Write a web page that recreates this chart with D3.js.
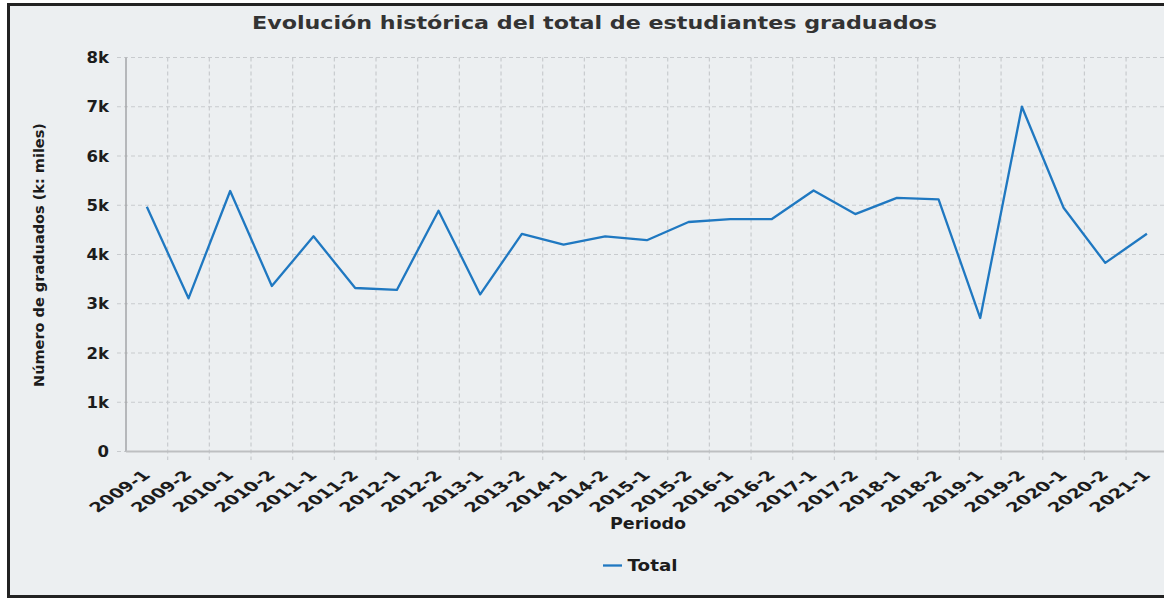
<!DOCTYPE html>
<html lang="es">
<head>
    <meta charset="UTF-8">
    <title>Evolución histórica del total de estudiantes graduados</title>
    <style>
        body { margin: 0; background: #ffffff; }
        text { font-family: "DejaVu Sans", sans-serif; font-weight: bold; }
    </style>
</head>
<script src="https://d3js.org/d3.v7.min.js"></script>
<body>
<svg width="1164" height="598" class="graduados"></svg>

<script>
    // datos
    var periodos = ["2009-1", "2009-2", "2010-1", "2010-2", "2011-1", "2011-2", "2012-1", "2012-2",
        "2013-1", "2013-2", "2014-1", "2014-2", "2015-1", "2015-2", "2016-1", "2016-2",
        "2017-1", "2017-2", "2018-1", "2018-2", "2019-1", "2019-2", "2020-1", "2020-2", "2021-1"];
    var total = [4970, 3110, 5290, 3360, 4370, 3320, 3280, 4890,
        3190, 4420, 4200, 4370, 4290, 4660, 4720, 4720,
        5300, 4820, 5150, 5120, 2710, 7000, 4950, 3830, 4420];
    var yTicks = [0, 1000, 2000, 3000, 4000, 5000, 6000, 7000, 8000];
    var yTickLabels = ["0", "1k", "2k", "3k", "4k", "5k", "6k", "7k", "8k"];

    var svg = d3.select("svg.graduados"),
        W = +svg.attr("width"),
        H = +svg.attr("height");

    var plotLeft = 126, plotTop = 57.5, plotBottom = 451.5, step = 41.67;

    // fondo con marco
    svg.append("rect")
        .attr("x", 8.5).attr("y", 4.5)
        .attr("width", W + 10).attr("height", H - 6)
        .attr("fill", "#eceff1")
        .attr("stroke", "#222")
        .attr("stroke-width", 3);

    var xScale = d3.scaleBand().domain(periodos).range([plotLeft, plotLeft + step * periodos.length]).padding(0),
        yScale = d3.scaleLinear().domain([0, 8000]).range([plotBottom, plotTop]);

    // grid horizontal
    svg.append("g")
        .selectAll("line")
        .data(yTicks)
        .enter().append("line")
        .attr("x1", 117)
        .attr("x2", W)
        .attr("y1", function (d) { return yScale(d); })
        .attr("y2", function (d) { return yScale(d); })
        .attr("stroke", "#c8cbce")
        .attr("stroke-width", 1.2)
        .attr("stroke-dasharray", "4,3");

    // grid vertical
    svg.append("g")
        .selectAll("line")
        .data(periodos.slice(1))
        .enter().append("line")
        .attr("x1", function (d) { return xScale(d); })
        .attr("x2", function (d) { return xScale(d); })
        .attr("y1", plotTop)
        .attr("y2", 460)
        .attr("stroke", "#c8cbce")
        .attr("stroke-width", 1.2)
        .attr("stroke-dasharray", "4,3");

    // ejes
    svg.append("line")
        .attr("x1", plotLeft).attr("x2", plotLeft)
        .attr("y1", plotTop).attr("y2", plotBottom)
        .attr("stroke", "#a3a5a7").attr("stroke-width", 1.5);
    svg.append("line")
        .attr("x1", plotLeft).attr("x2", W)
        .attr("y1", plotBottom).attr("y2", plotBottom)
        .attr("stroke", "#bdbfc1").attr("stroke-width", 2);

    // etiquetas eje y
    svg.append("g")
        .selectAll("text")
        .data(yTicks)
        .enter().append("text")
        .attr("transform", function (d) {
            return "translate(109," + (yScale(d) + 5.5) + ") scale(1.1,1)";
        })
        .attr("text-anchor", "end")
        .attr("font-size", "15px")
        .attr("fill", "#1c1c1c")
        .text(function (d, i) { return yTickLabels[i]; });

    // etiquetas eje x (giradas y estiradas como en la captura)
    svg.append("g")
        .selectAll("text")
        .data(periodos)
        .enter().append("text")
        .attr("transform", function (d) {
            return "translate(" + (xScale(d) + xScale.bandwidth() / 2 + 4.5) + ",476) scale(1.45,1) rotate(-45)";
        })
        .attr("text-anchor", "end")
        .attr("font-size", "13.5px")
        .attr("fill", "#1c1c1c")
        .text(function (d) { return d; });

    // titulo
    svg.append("text")
        .attr("x", 594.5)
        .attr("y", 29)
        .attr("text-anchor", "middle")
        .attr("font-size", "18.5px")
        .attr("fill", "#333")
        .attr("textLength", 685)
        .attr("lengthAdjust", "spacingAndGlyphs")
        .text("Evolución histórica del total de estudiantes graduados");

    svg.append("text")
        .attr("transform", "translate(44,255) rotate(-90)")
        .attr("text-anchor", "middle")
        .attr("font-size", "14.5px")
        .attr("fill", "#1c1c1c")
        .text("Número de graduados (k: miles)");

    svg.append("text")
        .attr("x", 648)
        .attr("y", 529)
        .attr("text-anchor", "middle")
        .attr("font-size", "16.5px")
        .attr("fill", "#1c1c1c")
        .attr("textLength", 76)
        .attr("lengthAdjust", "spacingAndGlyphs")
        .text("Periodo");

    // linea
    var line = d3.line()
        .x(function (d, i) { return xScale(periodos[i]) + xScale.bandwidth() / 2; })
        .y(function (d) { return yScale(d); });

    svg.append("path")
        .datum(total)
        .attr("fill", "none")
        .attr("stroke", "#1f78c1")
        .attr("stroke-width", 2.3)
        .attr("stroke-linejoin", "round")
        .attr("d", line);

    // leyenda
    svg.append("line")
        .attr("x1", 603).attr("x2", 622)
        .attr("y1", 565.5).attr("y2", 565.5)
        .attr("stroke", "#1f78c1").attr("stroke-width", 2.3);
    svg.append("text")
        .attr("x", 627.5)
        .attr("y", 571)
        .attr("font-size", "16.5px")
        .attr("fill", "#1c1c1c")
        .attr("textLength", 50)
        .attr("lengthAdjust", "spacingAndGlyphs")
        .text("Total");
</script>
</body>
</html>
